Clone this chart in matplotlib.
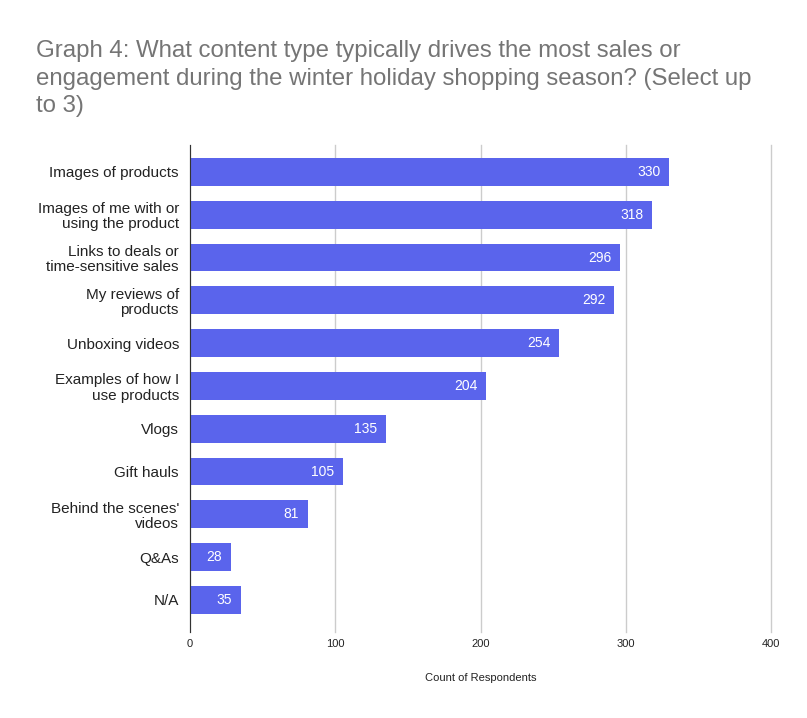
import matplotlib
matplotlib.use('Agg')
import matplotlib.pyplot as plt

categories = [
    "Images of products",
    "Images of me with or\nusing the product",
    "Links to deals or\ntime-sensitive sales",
    "My reviews of\nproducts",
    "Unboxing videos",
    "Examples of how I\nuse products",
    "Vlogs",
    "Gift hauls",
    "Behind the scenes'\nvideos",
    "Q&As",
    "N/A",
]
counts = [330, 318, 296, 292, 254, 204, 135, 105, 81, 28, 35]
x_ticks = [0, 100, 200, 300, 400]

plt.rcParams['font.family'] = ['Liberation Sans', 'DejaVu Sans']

fig = plt.figure(figsize=(8.07, 7.18), dpi=100)
ax = fig.add_axes([190/807, 1 - 632/718, (771 - 190)/807, (632 - 145)/718])

pos = list(range(len(categories)))
ax.barh(pos, counts, height=0.65, color='#5A64EC', zorder=3)
for p, v in zip(pos, counts):
    ax.text(v - 6, p, str(v), ha='right', va='center', color='white', fontsize=10, zorder=4)

ax.set_xlim(0, 400)
ax.set_ylim(10.75, -0.63)
ax.set_xticks(x_ticks)
ax.set_xticklabels([str(t) for t in x_ticks], fontsize=8, color='#222222')
ax.set_yticks(pos)
ax.set_yticklabels(categories, fontsize=11, color='#222222', linespacing=1.1)
ax.tick_params(axis='both', length=0)
ax.tick_params(axis='y', pad=8)
ax.tick_params(axis='x', pad=5)
ax.grid(axis='x', color='#cccccc', linewidth=1, zorder=0)
for gl in ax.get_xgridlines():
    gl.set_clip_on(False)
for s in ['top', 'right', 'bottom']:
    ax.spines[s].set_visible(False)
ax.spines['left'].set_color('#333333')
ax.spines['left'].set_zorder(5)

ax.set_xlabel("Count of Respondents", fontsize=8, color='#222222', labelpad=17)

fig.text(36/807, 1 - 40/718,
         "Graph 4: What content type typically drives the most sales or\n"
         "engagement during the winter holiday shopping season? (Select up\n"
         "to 3)",
         ha='left', va='top', fontsize=17.3, color='#757575', linespacing=1.33)

fig.savefig("out.png", dpi=100, facecolor='white')
